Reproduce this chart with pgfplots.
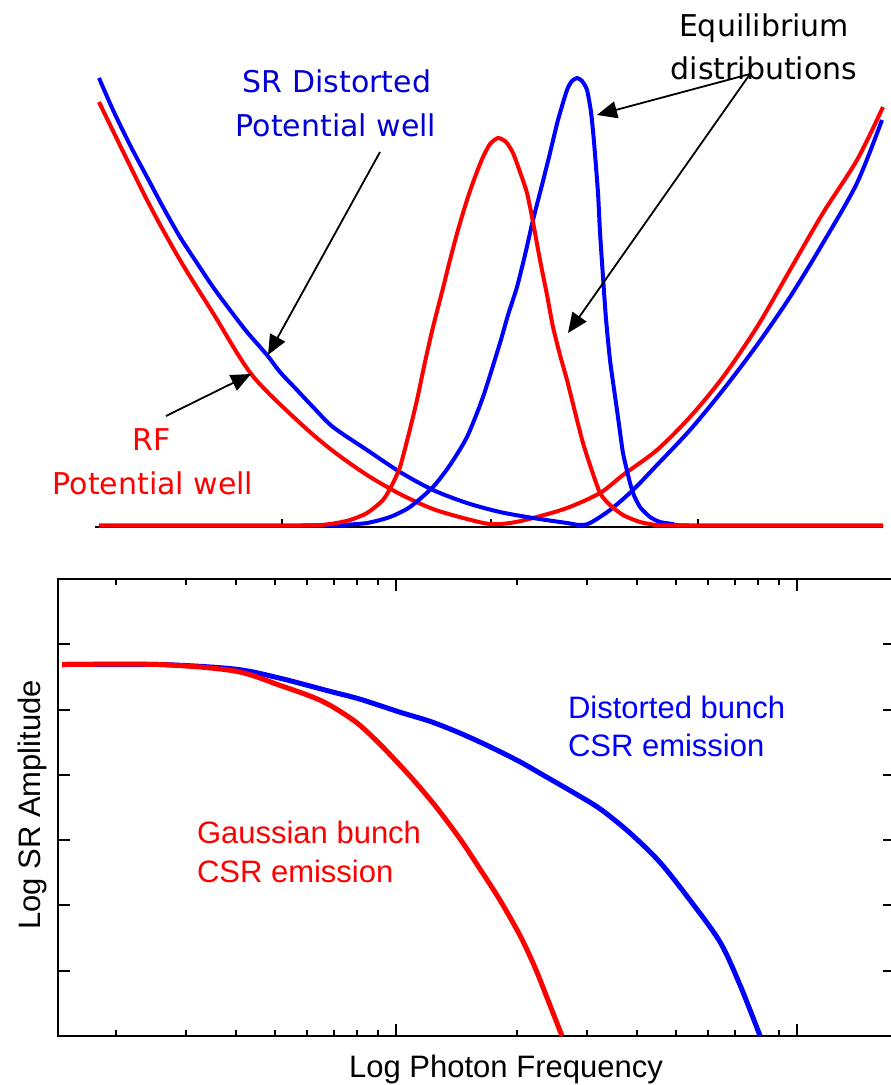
\documentclass[border=0pt]{standalone}
\usepackage{fontspec}
\setmainfont{Liberation Sans}
\newfontfamily\dv{DejaVu Sans}
\usepackage{pgfplots}
\pgfplotsset{compat=1.18}
\usetikzlibrary{arrows.meta}
\definecolor{cblue}{RGB}{0,0,255}
\definecolor{cred}{RGB}{255,0,0}
\definecolor{tblue}{RGB}{0,0,210}
\begin{document}
\begin{tikzpicture}
\useasboundingbox (0pt,0pt) rectangle (891pt,-1085pt);
% ---------------- top panel ----------------
\begin{axis}[
  at={(95pt,-527pt)}, anchor=south west,
  scale only axis, width=788pt, height=527pt,
  xmin=95, xmax=883, ymin=0, ymax=527,
  axis x line*=bottom, axis y line=none,
  xtick={282,491,698}, xticklabels={}, ytick=\empty,
  tick align=inside, major tick length=8pt,
  x axis line style={line width=2pt},
  every tick/.style={black, line width=1.5pt},
  clip=false,
]
% RF potential well
\addplot[cred, line width=4pt, line join=round, smooth, tension=0.5] coordinates {
(99,425)(147,327)(180,267)(213,214)(252,152)(300,104)(333,76)(367,52)(400,33)(433,18)(467,8)(490,3)(510,4)(533,9)(567,19)(600,34)(623,52)(657,77)(690,110)(723,150)(757,200)(790,257)(823,314)(857,367)(883,420)};
% SR distorted potential well
\addplot[cblue, line width=4pt, line join=round, smooth, tension=0.5] coordinates {
(99,449)(113,417)(130,382)(147,350)(163,320)(180,290)(197,264)(213,240)(230,217)(247,195)(267,172)(280,155)(297,137)(313,120)(333,100)(367,77)(400,55)(433,37)(467,24)(500,15)(533,9)(567,4)(580,2)(590,4)(610,17)(633,37)(657,62)(690,97)(723,137)(757,182)(790,230)(823,284)(857,344)(882,407)};
% blue equilibrium distribution
\addplot[cblue, line width=4pt, line join=round, smooth, tension=0.4] coordinates {
(99,1.5)(300,1.5)(340,2)(367,4)(390,10)(410,20)(433,40)(450,62)(467,90)(483,130)(500,184)(508,212)(517,240)(525,272)(533,307)(542,342)(550,374)(558,407)(567,437)(572,446)(577,449)(582,446)(587,437)(591,415)(594,385)(598,334)(600,295)(603,250)(606,208)(610,167)(614,138)(617,117)(620,95)(623,74)(628,52)(633,34)(640,20)(650,10)(660,5)(673,3)(690,1.5)(883,1.5)};
% red equilibrium distribution
\addplot[cred, line width=4pt, line join=round, smooth, tension=0.4] coordinates {
(99,1.5)(300,1.5)(330,3)(350,7)(367,14)(383,27)(392,42)(400,60)(408,90)(417,127)(425,165)(433,200)(442,235)(450,267)(458,297)(467,327)(475,350)(483,370)(490,383)(498,389)(506,385)(513,374)(520,355)(527,334)(533,305)(540,267)(547,232)(553,200)(560,172)(567,147)(575,115)(583,84)(590,62)(600,34)(610,22)(623,12)(640,5)(657,2)(680,1.5)(883,1.5)};
\end{axis}
% ---------------- bottom panel ----------------
\begin{axis}[
  at={(58pt,-1036pt)}, anchor=south west,
  scale only axis, width=837pt, height=457pt,
  xmode=log, xmin=0.1436, xmax=17.55, ymin=0, ymax=7,
  ytick={0,1,2,3,4,5,6,7},
  xticklabels={}, yticklabels={},
  tick align=inside, xtick pos=both, ytick pos=both,
  major tick length=12pt, minor tick length=6pt,
  axis line style={line width=2.5pt},
  every tick/.style={black, line width=2pt},
]
\addplot[cblue, line width=5pt, line join=round, smooth, tension=0.5] coordinates {
(0.147,5.69)(0.258,5.69)(0.397,5.62)(0.514,5.48)(0.684,5.28)(0.813,5.16)(1.023,4.96)(1.216,4.82)(1.444,4.64)(1.716,4.43)(2.038,4.20)(2.353,3.98)(2.716,3.76)(3.227,3.48)(3.833,3.11)(4.553,2.66)(5.410,2.08)(6.427,1.44)(7.21,0.78)(8.09,0)};
\addplot[cred, line width=5pt, line join=round, smooth, tension=0.5] coordinates {
(0.147,5.69)(0.258,5.69)(0.397,5.59)(0.514,5.37)(0.654,5.13)(0.790,4.82)(0.912,4.47)(1.084,3.98)(1.251,3.53)(1.444,3.02)(1.619,2.56)(1.817,2.08)(2.038,1.54)(2.221,1.05)(2.393,0.55)(2.594,0)};
\end{axis}
% ---------------- annotations ----------------
\begin{scope}[every node/.style={inner sep=0pt, outer sep=0pt}]
\node[anchor=base, text=tblue, font=\dv\fontsize{30}{36}\selectfont] at (337pt,-92pt) {SR Distorted};
\node[anchor=base, text=tblue, font=\dv\fontsize{30}{36}\selectfont] at (336pt,-136pt) {Potential well};
\node[anchor=base, text=black, font=\dv\fontsize{30}{36}\selectfont] at (764pt,-36pt) {Equilibrium};
\node[anchor=base, text=black, font=\dv\fontsize{30}{36}\selectfont] at (764pt,-79pt) {distributions};
\node[anchor=base, text=cred, font=\dv\fontsize{30}{36}\selectfont] at (152pt,-450pt) {RF};
\node[anchor=base, text=cred, font=\dv\fontsize{30}{36}\selectfont] at (153pt,-494pt) {Potential well};
\node[anchor=base west, text=cblue, font=\fontsize{31}{37}\selectfont] at (568pt,-718pt) {Distorted bunch};
\node[anchor=base west, text=cblue, font=\fontsize{31}{37}\selectfont] at (568pt,-756pt) {CSR emission};
\node[anchor=base west, text=cred, font=\fontsize{31}{37}\selectfont] at (197pt,-843pt) {Gaussian bunch};
\node[anchor=base west, text=cred, font=\fontsize{31}{37}\selectfont] at (197pt,-882pt) {CSR emission};
\node[anchor=base, text=black, font=\fontsize{31}{37}\selectfont] at (506pt,-1077pt) {Log Photon Frequency};
\node[anchor=base, rotate=90, text=black, font=\fontsize{31}{37}\selectfont] at (40pt,-805pt) {Log SR Amplitude};
\end{scope}
\begin{scope}[line width=1.8pt, -{Triangle[length=20pt,width=17pt]}]
\draw (380pt,-152pt) -- (268pt,-355pt);
\draw (166pt,-416pt) -- (251pt,-374pt);
\draw (750pt,-74pt) -- (597pt,-115pt);
\draw (750pt,-74pt) -- (568pt,-333pt);
\end{scope}
\end{tikzpicture}
\end{document}
